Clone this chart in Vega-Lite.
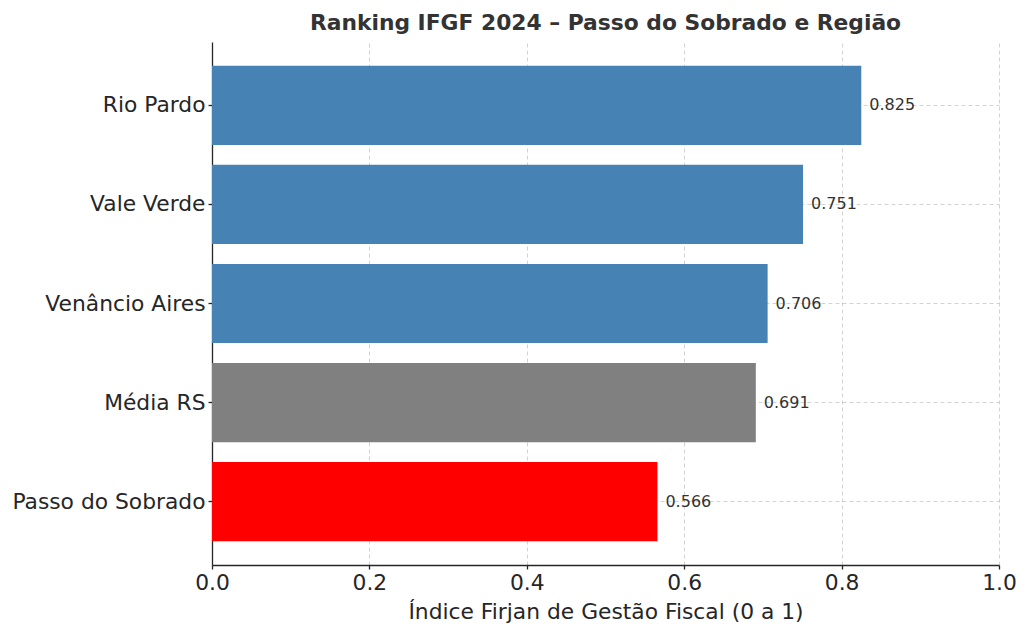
{
  "$schema": "https://vega.github.io/schema/vega-lite/v6.json",
  "width": 787,
  "height": 523,
  "autosize": {"type": "none"},
  "padding": {"left": 212, "top": 42, "right": 31, "bottom": 74},
  "background": "white",
  "title": {
    "text": "Ranking IFGF 2024 – Passo do Sobrado e Região",
    "font": "DejaVu Sans",
    "fontSize": 21.8,
    "fontWeight": "bold",
    "color": "#333333",
    "anchor": "middle",
    "offset": 7
  },
  "data": {
    "values": [
      {"municipio": "Rio Pardo", "ifgf": 0.825, "grupo": "regiao"},
      {"municipio": "Vale Verde", "ifgf": 0.751, "grupo": "regiao"},
      {"municipio": "Venâncio Aires", "ifgf": 0.706, "grupo": "regiao"},
      {"municipio": "Média RS", "ifgf": 0.691, "grupo": "media"},
      {"municipio": "Passo do Sobrado", "ifgf": 0.566, "grupo": "passo"}
    ]
  },
  "config": {
    "view": {"stroke": null},
    "axis": {
      "labelFont": "DejaVu Sans",
      "titleFont": "DejaVu Sans",
      "labelColor": "#262626",
      "titleColor": "#262626",
      "domainColor": "#262626",
      "tickColor": "#262626",
      "domainWidth": 1.3,
      "tickWidth": 1.3,
      "tickSize": 4,
      "labelLimit": 0,
      "gridColor": "#b0b0b0",
      "gridOpacity": 0.7,
      "gridDash": [4, 3],
      "gridWidth": 0.8,
      "zindex": 1
    }
  },
  "encoding": {
    "y": {
      "field": "municipio",
      "type": "nominal",
      "sort": null,
      "scale": {"paddingInner": 0.2, "paddingOuter": 0.24},
      "axis": {
        "title": null,
        "labelFontSize": 21.8,
        "labelPadding": 3,
        "bandPosition": 0.5,
        "grid": true
      }
    }
  },
  "layer": [
    {
      "mark": {"type": "bar"},
      "encoding": {
        "x": {
          "field": "ifgf",
          "type": "quantitative",
          "scale": {"domain": [0, 1], "nice": false},
          "axis": {
            "title": "Índice Firjan de Gestão Fiscal (0 a 1)",
            "values": [0, 0.2, 0.4, 0.6, 0.8, 1.0],
            "format": ".1f",
            "labelFlush": false,
            "labelFontSize": 21.8,
            "titleFontSize": 21.8,
            "titleFontWeight": "normal",
            "labelPadding": 3,
            "titlePadding": 8,
            "grid": true
          }
        },
        "color": {
          "field": "grupo",
          "type": "nominal",
          "scale": {"domain": ["regiao", "media", "passo"], "range": ["#4682b4", "#808080", "#ff0000"]},
          "legend": null
        }
      }
    },
    {
      "mark": {"type": "text", "align": "left", "baseline": "middle", "dx": 8, "font": "DejaVu Sans", "fontSize": 16, "color": "#333333"},
      "encoding": {
        "x": {"field": "ifgf", "type": "quantitative"},
        "text": {"field": "ifgf", "type": "quantitative", "format": ".3f"}
      }
    }
  ]
}
